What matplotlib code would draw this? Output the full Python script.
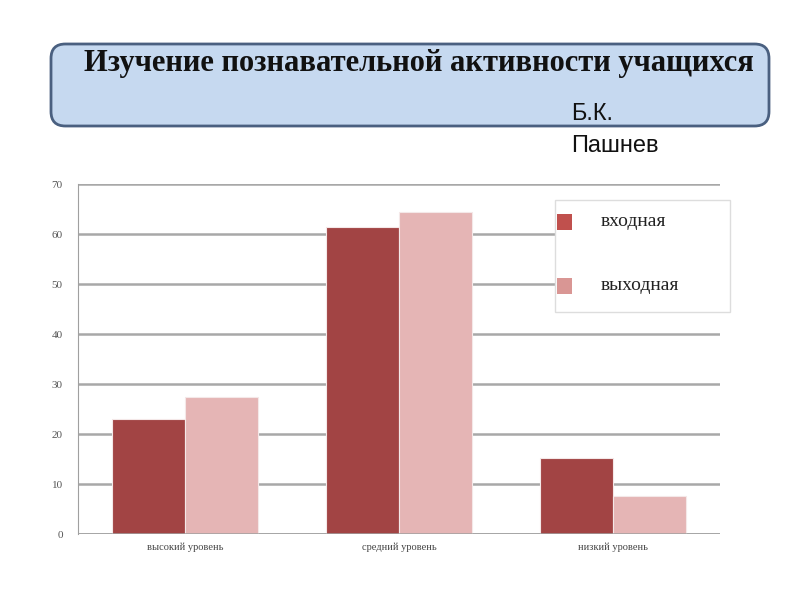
import matplotlib
matplotlib.use("Agg")
import matplotlib.pyplot as plt
import numpy as np
from matplotlib.patches import FancyBboxPatch, Rectangle

categories = ["высокий уровень", "средний уровень", "низкий уровень"]
series_names = ["входная", "выходная"]
vhodnaya = [23, 61.5, 15.3]
vyhodnaya = [27.5, 64.5, 7.6]
yticks = [0, 10, 20, 30, 40, 50, 60, 70]

bar_colors = ["#a24444", "#e5b5b5"]
legend_colors = ["#c0504d", "#d99694"]

fig = plt.figure(figsize=(8, 6), dpi=100)
fig.patch.set_facecolor("white")

# Title box
box = FancyBboxPatch((51/800, 1-126/600), 718/800, 82/600,
                     boxstyle="round,pad=0,rounding_size=0.018",
                     transform=fig.transFigure, facecolor="#c6d9f0",
                     edgecolor="#4a6080", linewidth=2, mutation_aspect=800/600)
fig.add_artist(box)
fig.text(419/800, 1-63/600, "Изучение познавательной активности учащихся",
         ha="center", va="center", fontsize=22, fontweight="bold",
         family="Liberation Serif", color="#111111")
fig.text(571/800, 1-114/600, "Б.К.", ha="left", va="center", fontsize=17,
         family="Liberation Sans", color="#111111")
fig.text(571/800, 1-146/600, "Пашнев", ha="left", va="center", fontsize=17,
         family="Liberation Sans", color="#111111")

ax = fig.add_axes([78/800, 1-534/600, 642/800, 350/600])
x = np.arange(len(categories))
w = 0.34
ax.bar(x - w/2, vhodnaya, w, color=bar_colors[0], edgecolor="#f4e8e8", linewidth=0.8, zorder=3)
ax.bar(x + w/2, vyhodnaya, w, color=bar_colors[1], edgecolor="#f4e8e8", linewidth=0.8, zorder=3)
ax.set_xlim(-0.5, 2.5)
ax.set_ylim(0, 70)
ax.set_yticks(yticks)
ax.set_yticklabels([str(t) for t in yticks], family="Liberation Serif", fontsize=8, color="#555555")
ax.set_xticks(x)
ax.set_xticklabels(categories, family="Liberation Serif", fontsize=7.5, color="#444444")
ax.tick_params(length=0, pad=11)
ax.tick_params(axis="x", pad=6)
ax.grid(axis="y", color="#a8a8a8", linewidth=1.8, zorder=0)
for s in ["top", "right", "bottom"]:
    ax.spines[s].set_visible(False)
ax.spines["left"].set_color("#a0a0a0")
ax.spines["left"].set_linewidth(0.8)
ax.axhline(0, color="#a0a0a0", linewidth=1.8, zorder=4)

# Legend (manual, matches reference placement)
lg = Rectangle((555/800, 1-312/600), 175/800, 112/600, transform=fig.transFigure,
               facecolor="white", edgecolor="#dddddd", linewidth=1, zorder=5)
fig.add_artist(lg)
for i, (name, c) in enumerate(zip(series_names, legend_colors)):
    yc = [222, 286][i]
    fig.add_artist(Rectangle((557/800, 1-(yc+8)/600), 15/800, 16/600,
                             transform=fig.transFigure, facecolor=c,
                             edgecolor="none", zorder=6))
    fig.text(601/800, 1-yc/600, name, ha="left", va="center", fontsize=14,
             family="Liberation Serif", color="#222222", zorder=6)

fig.savefig("out.png", dpi=100)
